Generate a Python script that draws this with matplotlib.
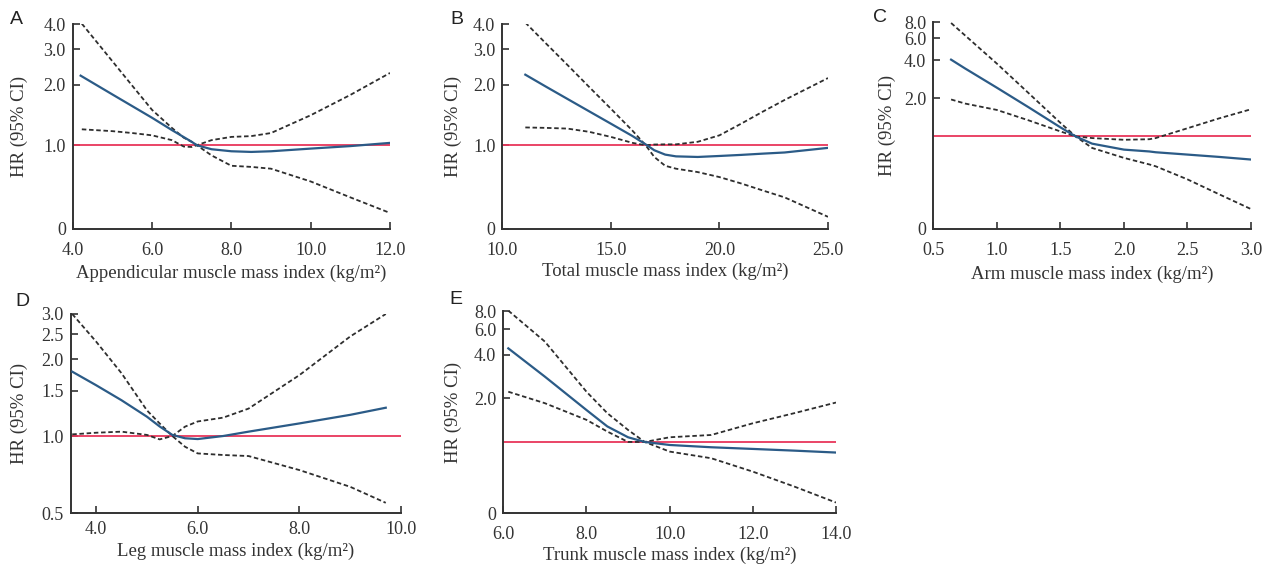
import numpy as np
import matplotlib
matplotlib.use("Agg")
import matplotlib.pyplot as plt
from matplotlib.ticker import FixedLocator, NullLocator

# ---------------- data ----------------
# A: appendicular muscle mass index
a_x_hr = [4.2, 5.0, 6.0, 6.5, 7.0, 7.13, 7.5, 8.0, 8.5, 9.0, 10.0, 11.0, 12.0]
a_hr = [2.22, 1.79, 1.37, 1.19, 1.04, 1.0, 0.955, 0.933, 0.926, 0.933, 0.962, 0.99, 1.027]
a_x_ci = [4.23, 5.0, 5.5, 6.0, 6.5, 6.8, 7.0, 7.13, 7.5, 8.0, 8.5, 9.0, 10.0, 11.0, 12.0]
a_ci_a = [4.03, 2.62, 1.98, 1.50, 1.22, 1.09, 1.04, 1.0, 0.89, 0.79, 0.78, 0.764, 0.66, 0.55, 0.46]
a_ci_b = [1.20, 1.175, 1.15, 1.12, 1.06, 0.985, 0.98, 1.0, 1.06, 1.10, 1.11, 1.15, 1.41, 1.78, 2.29]

# B: total muscle mass index
b_x = [11.06, 12.0, 13.0, 14.0, 15.0, 16.0, 16.6, 17.0, 17.5, 18.0, 19.0, 20.0, 21.0, 22.0, 23.0, 25.0]
b_hr = [2.245, 1.96, 1.70, 1.475, 1.28, 1.11, 1.01, 0.944, 0.898, 0.88, 0.874, 0.884, 0.895, 0.908, 0.92, 0.97]
b_ci_a = [4.08, 3.22, 2.51, 1.95, 1.52, 1.18, 1.0, 0.874, 0.79, 0.764, 0.735, 0.694, 0.645, 0.595, 0.55, 0.44]
b_ci_b = [1.226, 1.22, 1.21, 1.166, 1.10, 1.027, 1.0, 1.008, 1.01, 1.01, 1.04, 1.12, 1.28, 1.47, 1.68, 2.16]

# C: arm muscle mass index
c_x = [0.64, 0.75, 1.0, 1.25, 1.5, 1.62, 1.75, 2.0, 2.2, 2.25, 2.5, 2.75, 3.0]
c_hr = [4.05, 3.45, 2.43, 1.70, 1.18, 1.0, 0.876, 0.786, 0.76, 0.749, 0.718, 0.688, 0.656]
c_ci_a = [7.9, 6.3, 3.77, 2.20, 1.28, 1.0, 0.81, 0.676, 0.6, 0.58, 0.457, 0.348, 0.266]
c_ci_b = [1.96, 1.82, 1.62, 1.34, 1.095, 1.0, 0.97, 0.94, 0.95, 0.97, 1.16, 1.39, 1.64]

# D: leg muscle mass index
d_x = [3.53, 4.0, 4.5, 5.0, 5.25, 5.5, 5.75, 6.0, 6.5, 7.0, 8.0, 9.0, 9.7]
d_hr = [1.785, 1.58, 1.38, 1.19, 1.09, 1.01, 0.98, 0.973, 1.0, 1.04, 1.12, 1.21, 1.29]
d_ci_a = [3.0, 2.34, 1.76, 1.26, 1.12, 1.0, 0.908, 0.855, 0.843, 0.835, 0.736, 0.633, 0.548]
d_ci_b = [1.015, 1.03, 1.04, 1.01, 0.97, 1.0, 1.088, 1.14, 1.18, 1.28, 1.73, 2.45, 3.0]

# E: trunk muscle mass index
e_x = [6.12, 7.0, 8.0, 8.5, 9.0, 9.4, 10.0, 11.0, 12.0, 13.0, 14.0]
e_hr = [4.42, 2.82, 1.66, 1.28, 1.077, 1.0, 0.953, 0.919, 0.895, 0.871, 0.845]
e_ci_a = [8.05, 4.92, 2.22, 1.58, 1.21, 1.0, 0.858, 0.772, 0.624, 0.492, 0.382]
e_ci_b = [2.22, 1.85, 1.42, 1.18, 1.0, 1.0, 1.077, 1.117, 1.345, 1.58, 1.87]

panels = [
    dict(letter="A", xlabel="Appendicular muscle mass index (kg/m²)",
         x_hr=a_x_hr, hr=a_hr, x_ci=a_x_ci, ci_a=a_ci_a, ci_b=a_ci_b,
         xlim=(4, 12), xticks=[4, 6, 8, 10, 12],
         ylim=(0.384, 4.0), yticks=[0.384, 1, 2, 3, 4], ylabels=["0", "1.0", "2.0", "3.0", "4.0"],
         box=(72.7, 24.3, 390, 228.7), letter_xy=(16, 19),
         xpad=9.5, xlab_y=273, ylab_x=19),
    dict(letter="B", xlabel="Total muscle mass index (kg/m²)",
         x_hr=b_x, hr=b_hr, x_ci=b_x, ci_a=b_ci_a, ci_b=b_ci_b,
         xlim=(10, 25), xticks=[10, 15, 20, 25],
         ylim=(0.384, 4.0), yticks=[0.384, 1, 2, 3, 4], ylabels=["0", "1.0", "2.0", "3.0", "4.0"],
         box=(502.3, 24.3, 828, 228.7), letter_xy=(457, 19),
         xpad=9.5, xlab_y=271, ylab_x=453),
    dict(letter="C", xlabel="Arm muscle mass index (kg/m²)",
         x_hr=c_x, hr=c_hr, x_ci=c_x, ci_a=c_ci_a, ci_b=c_ci_b,
         xlim=(0.5, 3.0), xticks=[0.5, 1.0, 1.5, 2.0, 2.5, 3.0],
         ylim=(0.186, 8.0), yticks=[0.186, 2, 4, 6, 8], ylabels=["0", "2.0", "4.0", "6.0", "8.0"],
         box=(933.3, 22.3, 1251, 228.7), letter_xy=(880, 18),
         xpad=9.5, xlab_y=274, ylab_x=887),
    dict(letter="D", xlabel="Leg muscle mass index (kg/m²)",
         x_hr=d_x, hr=d_hr, x_ci=d_x, ci_a=d_ci_a, ci_b=d_ci_b,
         xlim=(3.5, 10), xticks=[4, 6, 8, 10],
         ylim=(0.5, 3.0), yticks=[0.5, 1.0, 1.5, 2.0, 2.5, 3.0],
         ylabels=["0.5", "1.0", "1.5", "2.0", "2.5", "3.0"],
         box=(70.7, 314, 401, 513), letter_xy=(22, 301),
         xpad=5.5, xlab_y=551, ylab_x=19),
    dict(letter="E", xlabel="Trunk muscle mass index (kg/m²)",
         x_hr=e_x, hr=e_hr, x_ci=e_x, ci_a=e_ci_a, ci_b=e_ci_b,
         xlim=(6, 14), xticks=[6, 8, 10, 12, 14],
         ylim=(0.322, 8.0), yticks=[0.322, 2, 4, 6, 8], ylabels=["0", "2.0", "4.0", "6.0", "8.0"],
         box=(503.3, 311, 836, 513.3), letter_xy=(456, 299),
         xpad=9, xlab_y=555, ylab_x=453),
]

W, H = 1271, 564
BLUE = "#2b5b87"
RED = "#e8365a"
DASH = "#2e2e2e"
INK = "#333333"
SERIF = ["Liberation Serif", "DejaVu Serif"]

fig = plt.figure(figsize=(W / 100, H / 100), dpi=100)

for p in panels:
    l, t, r, b = p["box"]
    ax = fig.add_axes([l / W, 1 - b / H, (r - l) / W, (b - t) / H])
    ax.set_yscale("log")
    ax.axhline(1.0, color=RED, lw=1.3, zorder=2)
    ax.plot(p["x_ci"], p["ci_a"], color=DASH, lw=1.3, ls=(0, (2.5, 1.5)), zorder=3)
    ax.plot(p["x_ci"], p["ci_b"], color=DASH, lw=1.3, ls=(0, (2.5, 1.5)), zorder=3)
    ax.plot(p["x_hr"], p["hr"], color=BLUE, lw=1.6, zorder=4)
    ax.set_xlim(*p["xlim"])
    ax.set_ylim(*p["ylim"])

    ax.xaxis.set_major_locator(FixedLocator(p["xticks"]))
    ax.set_xticklabels([f"{v:.1f}" for v in p["xticks"]])
    ax.yaxis.set_major_locator(FixedLocator(p["yticks"]))
    ax.yaxis.set_minor_locator(NullLocator())
    ax.set_yticklabels(p["ylabels"])

    for s in ("top", "right"):
        ax.spines[s].set_visible(False)
    for s in ("left", "bottom"):
        ax.spines[s].set_color(INK)
        ax.spines[s].set_linewidth(1.4)
    ax.tick_params(direction="in", length=5, width=1.2, color=INK,
                   labelsize=13, labelcolor=INK)
    ax.tick_params(axis="x", pad=p["xpad"])
    ax.tick_params(axis="y", pad=5)
    for lab in ax.get_xticklabels() + ax.get_yticklabels():
        lab.set_family(SERIF)

    ax.set_xlabel(p["xlabel"], family=SERIF, fontsize=13.5, color=INK, va="center")
    ax.xaxis.set_label_coords(0.5, (b - p["xlab_y"]) / (b - t))
    ax.set_ylabel("HR (95% CI)", family=SERIF, fontsize=13.5, color=INK, va="center")
    ax.yaxis.set_label_coords((p["ylab_x"] - l) / (r - l), 0.5)

    lx, ly = p["letter_xy"]
    fig.text(lx / W, 1 - ly / H, p["letter"], ha="center", va="center",
             family=["Liberation Sans", "DejaVu Sans"], fontsize=14, color="#222222")

fig.savefig("out.png", dpi=100)
